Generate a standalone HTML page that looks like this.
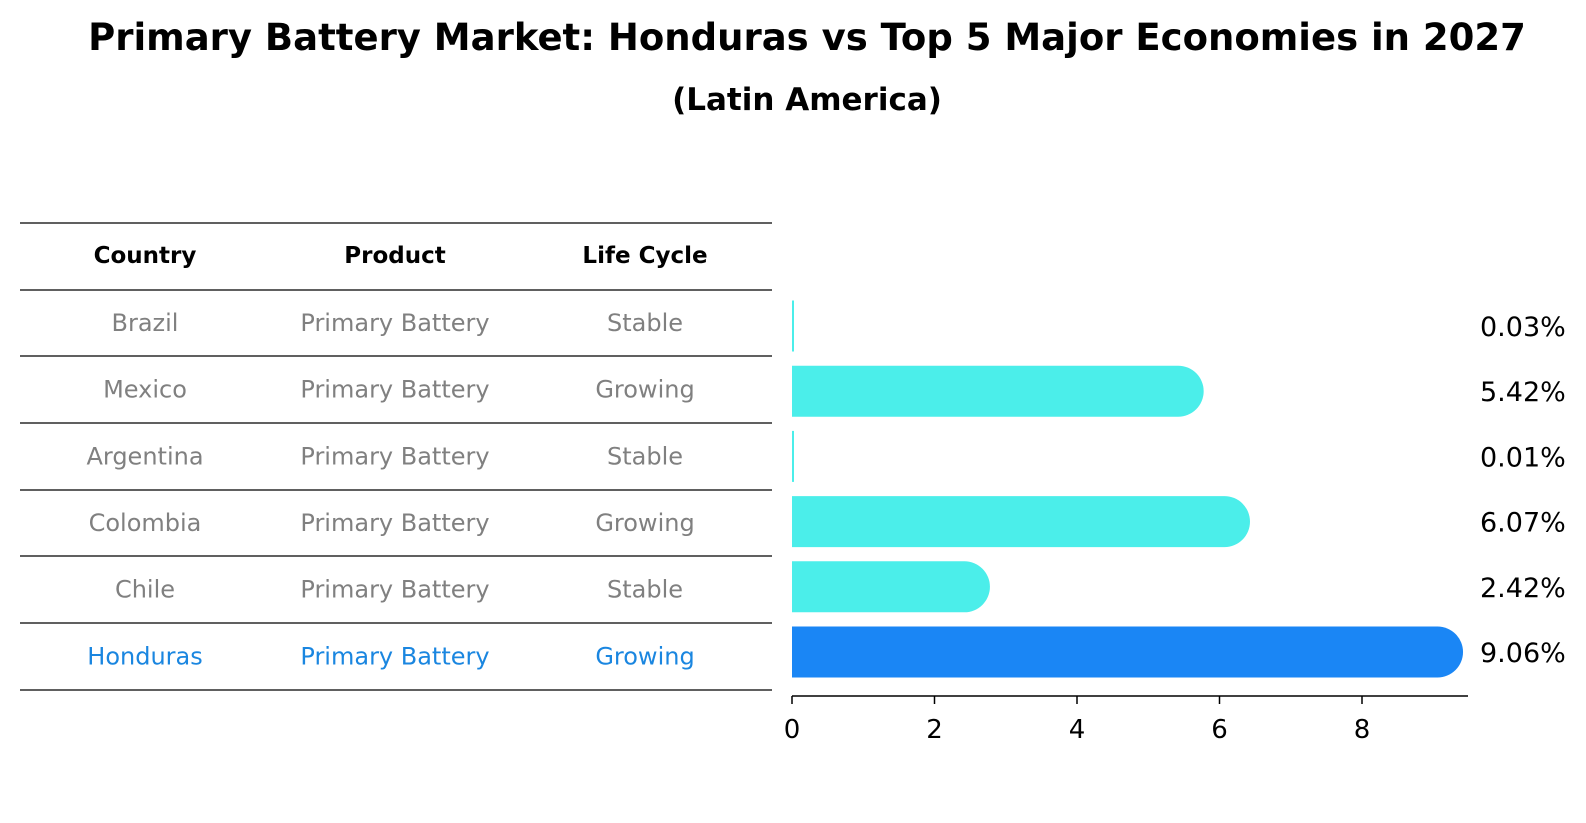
<!DOCTYPE html>
<html><head><meta charset="utf-8"><style>
body{margin:0;background:#fff;font-family:"DejaVu Sans","Liberation Sans",sans-serif}
svg{display:block}
</style></head><body>
<svg id="c" width="1586" height="823" font-family="DejaVu Sans, Liberation Sans, sans-serif">
<text x="807" y="50" text-anchor="middle" font-size="37" font-weight="bold">Primary Battery Market: Honduras vs Top 5 Major Economies in 2027</text>
<text x="807" y="110" text-anchor="middle" font-size="31" font-weight="bold">(Latin America)</text>
<g id="tbl"></g>
<g id="bars"></g>
</svg>
<script>
const countries=["Brazil","Mexico","Argentina","Colombia","Chile","Honduras"];
const products=["Primary Battery","Primary Battery","Primary Battery","Primary Battery","Primary Battery","Primary Battery"];
const lifecycle=["Stable","Growing","Stable","Growing","Stable","Growing"];
const values=[0.03,5.42,0.01,6.07,2.42,9.06];
const valueLabels=["0.03%","5.42%","0.01%","6.07%","2.42%","9.06%"];
const ticks=[0,2,4,6,8];
const NS="http://www.w3.org/2000/svg";
function mk(t,a,p){const e=document.createElementNS(NS,t);for(const k in a)e.setAttribute(k,a[k]);p.appendChild(e);return e;}
const tbl=document.getElementById('tbl'),bars=document.getElementById('bars');
const x=v=>792+v*71.25;
const rowY=i=>326+i*65.2;
const lineYs=[223,290,356,423,490,556,623,690];
lineYs.forEach((y,i)=>{const l=mk('line',{x1:20,x2:772,y1:y,y2:y,stroke:'#000','stroke-width':1.2},tbl);

});
const colX=[145,395,645],heads=["Country","Product","Life Cycle"];
heads.forEach((h,j)=>{const t=mk('text',{x:colX[j],y:263,'text-anchor':'middle','font-size':23,'font-weight':'bold'},tbl);t.textContent=h;

});
countries.forEach((c,i)=>{
 const y=(lineYs[i+1]+lineYs[i+2])/2+8;
 const col=i===5?'#1a86e0':'#808080';
 [c,products[i],lifecycle[i]].forEach((s,j)=>{const t=mk('text',{x:colX[j],y:y,'text-anchor':'middle','font-size':24,fill:col},tbl);t.textContent=s;
 
 });
 const cy=rowY(i),h=51,r=25.5,col2=i===5?'#1a86f5':'#4beeea';
 const x0=x(0),x1=x(values[i]);
 const d=values[i]<0.2?`M${x0},${cy-h/2}h2v${h}h-2z`:`M${x0},${cy-h/2}H${x1}A${r},${r} 0 0 1 ${x1},${cy+h/2}H${x0}Z`;
 const p=mk('path',{d:d,fill:col2},bars);
 
 
 const t=mk('text',{x:1480,y:cy+10,'font-size':27},bars);t.textContent=valueLabels[i];
 
 
});
const ax=mk('line',{x1:792,x2:1468,y1:696,y2:696,stroke:'#000','stroke-width':1.5},bars);


ticks.forEach(v=>{const l=mk('line',{x1:x(v),x2:x(v),y1:696,y2:704,stroke:'#000','stroke-width':1.5},bars);


const t=mk('text',{x:x(v),y:738,'text-anchor':'middle','font-size':26},bars);t.textContent=v;

});
</script>
</body></html>
